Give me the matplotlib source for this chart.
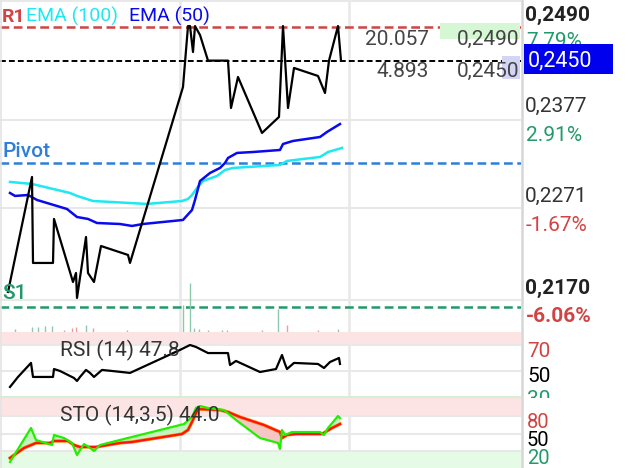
import matplotlib
matplotlib.use("Agg")
import matplotlib.pyplot as plt
from matplotlib.patches import Rectangle
import numpy as np

# ---------------- data ----------------
t_price = [8, 32, 33, 53, 54, 73, 76, 77, 86, 88, 94, 101, 128, 130, 183, 188, 190, 193, 195, 200,
           208, 228, 231, 238, 262, 279, 283, 288, 294, 318, 325, 329, 338, 341]
price = [0.21756, 0.23120, 0.22100, 0.22100, 0.22622, 0.21874, 0.21981, 0.21685, 0.22408, 0.21981,
         0.21874, 0.22301, 0.22195, 0.22100, 0.24187, 0.2491, 0.2491, 0.24602, 0.2491, 0.24804,
         0.2450, 0.2450, 0.23938, 0.24306, 0.23642, 0.23832, 0.2491, 0.23938, 0.24413, 0.24318,
         0.24116, 0.2450, 0.2491, 0.2450]

t_ema100 = [10, 32, 70, 77, 93, 147, 182, 188, 192, 197, 203, 217, 225, 233, 280, 287, 320, 328, 342]
ema100 = [0.23061, 0.23037, 0.22930, 0.22895, 0.22835, 0.22800, 0.22835, 0.22859, 0.22906, 0.22989,
          0.23072, 0.23132, 0.23203, 0.23227, 0.23262, 0.23310, 0.23357, 0.23416, 0.23464]

t_ema50 = [10, 15, 28, 37, 67, 77, 88, 97, 120, 132, 143, 183, 192, 195, 200, 210, 220, 225, 228,
           237, 253, 280, 283, 293, 320, 327, 340]
ema50 = [0.22930, 0.22895, 0.22906, 0.22847, 0.22740, 0.22645, 0.22622, 0.22574, 0.22562, 0.22539,
         0.22562, 0.22610, 0.22728, 0.22847, 0.23072, 0.23167, 0.23227, 0.23286, 0.23345, 0.23405,
         0.23416, 0.23440, 0.23511, 0.23547, 0.23594, 0.23654, 0.23748]

r1_level = 0.2490
last_level = 0.2450
pivot_level = 0.23286
s1_level = 0.21578
price_grid = [0.25202, 0.23796, 0.22752, 0.21661]

t_vol = [15, 32, 38, 45, 52, 64, 72, 76, 86, 93, 127, 183, 190, 194, 199, 208, 222, 227, 262, 278, 287, 318, 338]
vol = [600, 1000, 1000, 1200, 1200, 400, 800, 1000, 1400, 800, 400, 5500, 10000, 800, 600, 400, 400, 400,
       400, 4700, 1400, 400, 600]
vol_up = [1, 1, 1, 1, 1, 0, 0, 0, 1, 0, 0, 1, 1, 1, 1, 1, 1, 1, 0, 1, 0, 0, 1]

t_rsi = [10, 18, 31, 33, 53, 54, 60, 74, 77, 80, 86, 90, 94, 102, 112, 130, 132, 180, 190, 196, 208,
         228, 230, 236, 260, 276, 282, 285, 287, 294, 318, 324, 330, 339, 340]
rsi = [37.7, 45.4, 56.2, 45.4, 45.4, 51.5, 50.0, 44.6, 42.3, 45.4, 50.8, 48.5, 45.4, 50.8, 50.0, 48.5,
       49.2, 66.2, 70.0, 68.5, 63.8, 63.8, 54.6, 57.7, 49.2, 51.5, 62.3, 55.4, 51.5, 56.2, 55.4, 52.3,
       56.9, 60.0, 55.4]

t_k = [10, 31, 36, 52, 54, 64, 72, 77, 84, 90, 94, 100, 108, 132, 184, 192, 196, 200, 208, 224, 230,
       236, 260, 278, 280, 282, 285, 292, 320, 324, 328, 338, 340]
sto_k = [1.3, 59.6, 39.0, 30.4, 47.6, 42.4, 33.9, 13.3, 32.1, 25.3, 20.2, 30.4, 33.9, 44.2, 66.4, 78.4,
         93.9, 97.3, 93.9, 90.4, 81.9, 73.3, 42.4, 33.9, 23.6, 56.2, 47.6, 52.7, 52.7, 47.6, 59.6, 80.1, 76.7]
t_d = [10, 24, 36, 50, 54, 68, 74, 80, 86, 96, 120, 132, 182, 188, 192, 198, 220, 228, 240, 264, 280,
       282, 287, 296, 322, 332, 340]
sto_d = [8.2, 25.3, 33.9, 33.9, 37.3, 37.3, 30.4, 27.0, 27.0, 27.0, 33.9, 35.6, 49.3, 56.2, 69.9, 92.1,
         90.4, 87.0, 78.4, 64.7, 52.7, 42.4, 47.6, 49.3, 49.3, 59.6, 66.4]

ema_labels = ["EMA (100)", "EMA (50)"]
right_price_labels = ["0,2490", "0,2377", "0,2271", "0,2170"]
right_pct_labels = ["7.79%", "2.91%", "-1.67%", "-6.06%"]
rsi_levels = [70, 50, 30]
sto_levels = [80, 50, 20]

# ---------------- layout ----------------
W, H = 628, 468
fig = plt.figure(figsize=(W / 100, H / 100), dpi=100)
plt.rcParams['font.family'] = ['Roboto', 'DejaVu Sans']

RED = '#d04444'
GREEN = '#22996a'
BLUE_PIV = '#2f7fd9'
CYAN = '#1ee8f0'
BLUE = '#0a0aee'
GRID = '#e8e8e8'
TXT = '#333333'


def add_ax(x0, y0, x1, y1):
    return fig.add_axes([x0 / W, 1 - y1 / H, (x1 - x0) / W, (y1 - y0) / H])


def ftext(x, y, s, **kw):
    return fig.text(x / W, 1 - y / H, s, **kw)


XL = (0, 521)
ax = add_ax(0, 0, 521, 332)
axv = add_ax(0, 0, 521, 332)
ax_rsi = add_ax(0, 332, 521, 398)
ax_sto = add_ax(0, 398, 521, 468)

for a in (ax, axv, ax_rsi, ax_sto):
    a.set_xlim(*XL)
    a.set_xticks([])
    a.set_yticks([])
    for s in a.spines.values():
        s.set_visible(False)
    a.patch.set_alpha(0)

# main panel
ax.set_ylim(0.21281, 0.25219)
for g in price_grid:
    ax.axhline(g, color=GRID, lw=1.5, zorder=0)
for xv in (180, 349):
    for a in (ax, ax_rsi, ax_sto):
        a.axvline(xv, color=GRID, lw=1.8, zorder=0)

ax.axhline(r1_level, color=RED, lw=1.8, dashes=(3.5, 1.8), zorder=2)
ax.axhline(last_level, color='black', lw=1.4, dashes=(3, 1.6), zorder=2)
ax.axhline(pivot_level, color=BLUE_PIV, lw=1.8, dashes=(3.5, 1.8), zorder=2)
ax.axhline(s1_level, color=GREEN, lw=1.8, dashes=(3.5, 1.8), zorder=2)

ax.plot(t_ema100, ema100, color=CYAN, lw=1.8, zorder=3)
ax.plot(t_ema50, ema50, color=BLUE, lw=1.8, zorder=3)
ax.plot(t_price, price, color='black', lw=1.6, zorder=4)

axv.set_ylim(0, 68000)
vcols = ['#8cc8ac' if u else '#f09a9a' for u in vol_up]
axv.vlines(t_vol, 0, vol, colors=vcols, lw=1.0, zorder=1)

# RSI panel
ax_rsi.set_ylim(29.2, 80)
ax_rsi.axhspan(70, 80, color='#fde4e4', lw=0, zorder=0)
ax_rsi.axhspan(29.2, 30.4, color='#d5efd5', lw=0, zorder=0)
ax_rsi.axhline(70, color=GRID, lw=1.5, zorder=0)
ax_rsi.axhline(50, color=GRID, lw=1.5, zorder=0)
ax_rsi.plot(t_rsi, rsi, color='black', lw=1.6, zorder=3)

# STO panel
ax_sto.set_ylim(-9, 111)
ax_sto.axhspan(80, 111, color='#fde4e4', lw=0, zorder=0)
ax_sto.axhspan(-9, 20, color='#e6fbe6', lw=0, zorder=0)
ax_sto.axhline(80, color=GRID, lw=1.5, zorder=0)
ax_sto.axhline(50, color=GRID, lw=1.5, zorder=0)
ax_sto.axhline(20, color=GRID, lw=1.5, zorder=0)
tg = np.linspace(10, 340, 1500)
kk = np.interp(tg, t_k, sto_k)
dd = np.interp(tg, t_d, sto_d)
ax_sto.fill_between(tg, kk, dd, where=kk >= dd, color='#c4f5c0', lw=0, zorder=1, interpolate=True)
ax_sto.fill_between(tg, kk, dd, where=kk < dd, color='#f6c6c6', lw=0, zorder=1, interpolate=True)
ax_sto.plot(t_d, sto_d, color='#ff8800', lw=2.4, zorder=2)
ax_sto.plot(t_d, sto_d, color='#ff1010', lw=1.5, zorder=3)
ax_sto.plot(t_k, sto_k, color='#22ee00', lw=1.6, zorder=4)

# borders
fig.add_artist(plt.Line2D([522 / W, 522 / W], [0, 1], color='#d6d6d6', lw=1.8))
fig.add_artist(plt.Line2D([1 / W, 1 / W], [0, 1], color='#e4e4e4', lw=1.2))

FS = 14
FL = 15
# legend / labels in main panel
ftext(2, 22, "R1", color=RED, fontsize=FS, fontweight='bold', va='baseline')
ftext(26, 22, ema_labels[0], color=CYAN, fontsize=FS, va='baseline')
ftext(129, 22, ema_labels[1], color=BLUE, fontsize=FS, va='baseline')
ftext(2, 157, "Pivot", color=BLUE_PIV, fontsize=FL, fontweight='medium', va='baseline')
ftext(2, 299, "S1", color=GREEN, fontsize=FL, fontweight='medium', va='baseline')

# info boxes on the right side of the main panel
fig.add_artist(Rectangle((440 / W, 1 - 39 / H), 80 / W, 16 / H, transform=fig.transFigure,
                         facecolor='#d6f7d4', edgecolor='none', zorder=1))
fig.add_artist(Rectangle((502 / W, 1 - 79 / H), 18 / W, 23 / H, transform=fig.transFigure,
                         facecolor='#d4d4f6', edgecolor='none', zorder=1))
ftext(429, 45, "20.057", color='#444444', fontsize=FL, ha='right', va='baseline')
ftext(519, 45, "0,2490", color='#444444', fontsize=FL, ha='right', va='baseline')
ftext(429, 77, "4.893", color='#444444', fontsize=FL, ha='right', va='baseline')
ftext(519, 77, "0,2450", color='#444444', fontsize=FL, ha='right', va='baseline')

# right price axis
ftext(525, 21, right_price_labels[0], color='#222222', fontsize=FL, fontweight='bold', va='baseline')
ftext(526, 47, right_pct_labels[0], color=GREEN, fontsize=FL, va='baseline')
fig.add_artist(Rectangle((524 / W, 1 - 74 / H), 89 / W, 30 / H, transform=fig.transFigure,
                         facecolor='#0000ee', edgecolor='none', zorder=4))
ftext(528, 66, "0,2450", color='white', fontsize=FL + 0.5, va='baseline', zorder=5)
ftext(525, 112, right_price_labels[1], color=TXT, fontsize=FL, va='baseline')
ftext(526, 141, right_pct_labels[1], color=GREEN, fontsize=FL, va='baseline')
ftext(525, 202, right_price_labels[2], color=TXT, fontsize=FL, va='baseline')
ftext(526, 231, right_pct_labels[2], color=RED, fontsize=FL, va='baseline')
ftext(525, 294, right_price_labels[3], color='#222222', fontsize=FL, fontweight='bold', va='baseline')
ftext(526, 322, right_pct_labels[3], color=RED, fontsize=FL, fontweight='bold', va='baseline')

# indicator titles
ftext(60, 356, "RSI (14) 47.8", color=TXT, fontsize=FL, va='baseline', zorder=6)
ftext(60, 421, "STO (14,3,5) 44.0", color=TXT, fontsize=FL, va='baseline', zorder=6)

# indicator right labels (clipped to their panel)
axl_rsi = add_ax(523, 332, 628, 398)
axl_sto = add_ax(523, 398, 628, 468)
for a in (axl_rsi, axl_sto):
    a.set_xlim(0, 105)
    a.set_ylim(70, 0)
    a.axis('off')
lvl_cols = [RED, 'black', GREEN]
for lv, c, yb in zip(rsi_levels, lvl_cols, [27, 53, 77]):
    axl_rsi.text(4, yb, str(lv), color=c, fontsize=FL, va='baseline', clip_on=True)
for lv, c, yb in zip(sto_levels, lvl_cols, [30, 48, 66]):
    axl_sto.text(4, yb, str(lv), color=c, fontsize=FS + 0.5, va='baseline', clip_on=True)

fig.savefig("out.png", dpi=100, facecolor='white')
